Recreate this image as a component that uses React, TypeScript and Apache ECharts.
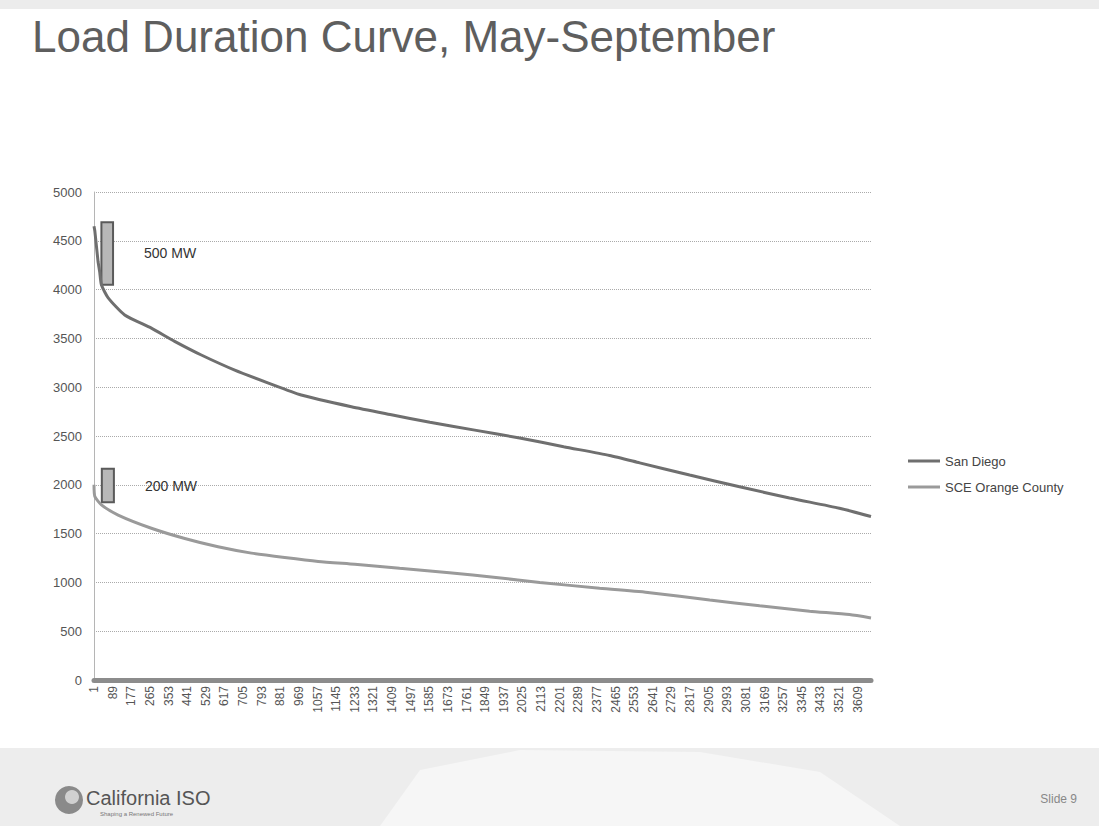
import React, { useEffect, useRef } from "react";
import * as echarts from "echarts";

// Hours of the May-September season (x) and load in MW (y)
const sanDiegoHours = [1, 5, 20, 28, 36, 68, 146, 272, 382, 508, 666, 822, 980, 1217, 1400, 1588, 1800, 2012, 2220, 2437, 2579, 2815, 3051, 3287, 3523, 3672];
const sanDiegoLoad = [4650, 4600, 4290, 4180, 4050, 3915, 3740, 3605, 3470, 3330, 3175, 3045, 2920, 2800, 2720, 2640, 2560, 2480, 2390, 2300, 2225, 2100, 1980, 1865, 1760, 1675];

const sceHours = [1, 5, 36, 115, 272, 430, 587, 745, 902, 1060, 1233, 1445, 1680, 1900, 2107, 2390, 2627, 2910, 3146, 3382, 3570, 3672];
const sceLoad = [2000, 1880, 1795, 1690, 1555, 1450, 1365, 1300, 1255, 1215, 1185, 1145, 1100, 1050, 1000, 940, 895, 820, 760, 705, 670, 635];

const seriesNames = ["San Diego", "SCE Orange County"];
const annotations = [
  { label: "500 MW", x0: 36, x1: 91, y0: 4690, y1: 4050 },
  { label: "200 MW", x0: 38, x1: 95, y0: 2165, y1: 1820 },
];

const FONT = "'Liberation Sans', Arial, sans-serif";

export default function App() {
  const ref = useRef<HTMLDivElement>(null);
  useEffect(() => {
    document.body.style.margin = "0";
    const chart = echarts.init(ref.current!, null, { renderer: "svg" });
    const mk = (a: typeof annotations[number]) => ({
      silent: true,
      itemStyle: { color: "#b8b8b8", borderColor: "#5a5a5a", borderWidth: 2 },
      label: {
        show: true,
        position: "right",
        distance: 30,
        formatter: a.label,
        color: "#333",
        fontSize: 14,
        fontFamily: FONT,
      },
      data: [[{ xAxis: a.x0, yAxis: a.y0 }, { xAxis: a.x1, yAxis: a.y1 }]],
    });
    chart.setOption({
      animation: false,
      backgroundColor: "#ffffff",
      textStyle: { fontFamily: FONT },
      grid: { left: 94, right: 228, top: 192, bottom: 146, containLabel: false },
      legend: {
        orient: "vertical",
        left: 903,
        top: 448,
        icon: "rect",
        itemWidth: 32,
        itemHeight: 3,
        itemGap: 10,
        textStyle: { color: "#444", fontSize: 13, fontFamily: FONT, lineHeight: 16 },
        data: seriesNames,
      },
      xAxis: {
        type: "value",
        min: 1,
        max: 3672,
        interval: 88,
        axisLine: { show: true, lineStyle: { color: "#8c8c8c", width: 5 } },
        axisTick: { show: false },
        splitLine: { show: false },
        axisLabel: {
          rotate: 90,
          color: "#555",
          fontSize: 12,
          fontFamily: FONT,
          showMaxLabel: false,
          margin: 6,
          formatter: (v: number) => String(v),
        },
      },
      yAxis: {
        type: "value",
        min: 0,
        max: 5000,
        interval: 500,
        axisLine: { show: true, lineStyle: { color: "#b5b5b5", width: 1 } },
        axisTick: { show: false },
        splitLine: { show: true, lineStyle: { color: "#aaaaaa", type: "dotted", width: 1 } },
        axisLabel: {
          color: "#555",
          fontSize: 13,
          fontFamily: FONT,
          margin: 12,
          formatter: (v: number) => String(v),
        },
      },
      series: [
        {
          name: seriesNames[0],
          type: "line",
          data: sanDiegoHours.map((h, i) => [h, sanDiegoLoad[i]]),
          showSymbol: false,
          symbol: "none",
          smooth: 0.2,
          lineStyle: { color: "#6f6f6f", width: 3 },
          itemStyle: { color: "#6f6f6f" },
          markArea: mk(annotations[0]),
        },
        {
          name: seriesNames[1],
          type: "line",
          data: sceHours.map((h, i) => [h, sceLoad[i]]),
          showSymbol: false,
          symbol: "none",
          smooth: 0.2,
          lineStyle: { color: "#9a9a9a", width: 3 },
          itemStyle: { color: "#9a9a9a" },
          markArea: mk(annotations[1]),
        },
      ],
      graphic: [
        { type: "rect", left: 0, top: 0, shape: { width: 1099, height: 9 }, style: { fill: "#ececec" }, silent: true },
        { type: "rect", left: 0, top: 748, shape: { width: 1099, height: 78 }, style: { fill: "#ededed" }, silent: true },
        {
          type: "polygon",
          shape: { points: [[380, 826], [420, 770], [520, 750], [700, 752], [820, 772], [900, 826]] },
          style: { fill: "#f6f6f6" },
          silent: true,
        },
        {
          type: "text",
          left: 32,
          top: 14,
          style: { text: "Load Duration Curve, May-September", fill: "#5e5e5e", fontSize: 44, fontFamily: FONT },
        },
        { type: "circle", shape: { cx: 69, cy: 800, r: 14 }, style: { fill: "#8a8a8a" } },
        { type: "circle", shape: { cx: 72, cy: 797, r: 7 }, style: { fill: "#d0d0d0" } },
        {
          type: "text",
          left: 86,
          top: 788,
          style: { text: "California ISO", fill: "#555", fontSize: 20, fontFamily: FONT },
        },
        {
          type: "text",
          left: 100,
          top: 811,
          style: { text: "Shaping a Renewed Future", fill: "#777", fontSize: 6, fontFamily: FONT },
        },
        {
          type: "text",
          right: 22,
          top: 793,
          style: { text: "Slide 9", fill: "#888", fontSize: 12, fontFamily: FONT },
        },
      ],
    });
    return () => chart.dispose();
  }, []);
  return <div ref={ref} style={{ width: 1099, height: 826 }} />;
}
